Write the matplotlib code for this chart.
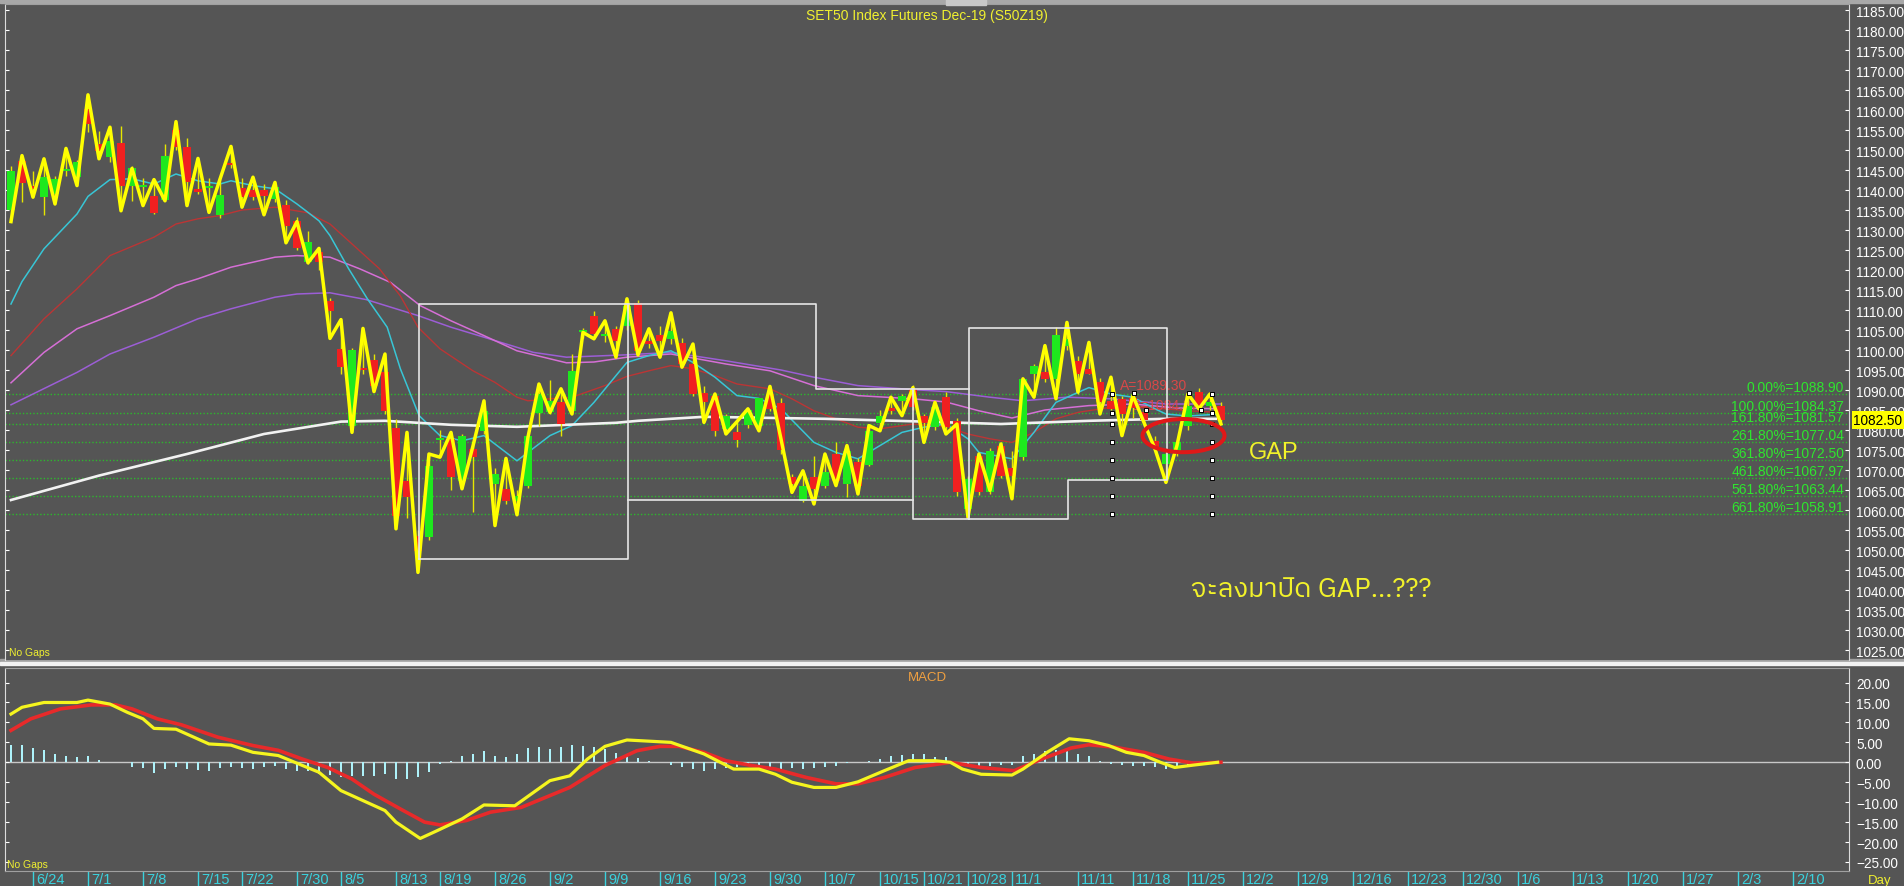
import numpy as np
import pandas as pd
import matplotlib
matplotlib.use('Agg')
import matplotlib.pyplot as plt
from matplotlib import font_manager as fm
from matplotlib.font_manager import FontProperties
from matplotlib.patches import Ellipse, Rectangle

# ---------------- data ----------------
open_ = [1135.1, 1147.3, 1141.0, 1138.2, 1139.0, 1144.8, 1143.2, 1160.2, 1151.5, 1148.2,
         1151.8, 1141.1, 1140.8, 1138.6, 1137.6, 1155.1, 1150.7, 1140.3, 1140.6, 1133.8,
         1146.8, 1140.4, 1140.0, 1140.0, 1137.8, 1136.3, 1132.3, 1121.9, 1124.4, 1112.3,
         1100.3, 1081.1, 1095.6, 1097.6, 1094.4, 1080.4, 1067.3, 1053.6, 1053.2, 1077.6,
         1077.8, 1067.3, 1075.3, 1079.8, 1066.5, 1065.2, 1062.3, 1066.1, 1084.3, 1084.4,
         1086.9, 1084.8, 1104.5, 1108.6, 1103.5, 1105.3, 1106.1, 1111.7, 1102.3, 1103.8,
         1102.8, 1101.7, 1096.5, 1089.3, 1088.6, 1080.3, 1079.4, 1081.3, 1081.1, 1089.0,
         1086.8, 1068.2, 1062.3, 1068.2, 1066.1, 1074.0, 1066.5, 1072.1, 1071.3, 1081.8,
         1085.5, 1087.3, 1090.3, 1083.4, 1080.7, 1088.2, 1082.3, 1060.3, 1073.6, 1064.4,
         1076.1, 1070.6, 1073.2, 1094.0, 1094.4, 1092.8, 1101.1, 1097.3, 1095.3, 1092.0,
         1087.3, 1087.8, 1088.0, 1084.5, 1077.3, 1071.5, 1074.4, 1081.1, 1089.4, 1086.0, 1086.1]
high = [1146.1, 1148.6, 1144.8, 1147.8, 1143.5, 1150.4, 1147.5, 1163.8, 1154.8, 1155.7,
        1156.1, 1146.0, 1143.0, 1142.6, 1151.5, 1157.1, 1152.9, 1147.9, 1143.0, 1142.7,
        1150.9, 1143.0, 1143.2, 1141.5, 1141.9, 1137.5, 1133.2, 1129.8, 1125.4, 1113.0,
        1107.6, 1100.5, 1105.4, 1099.0, 1099.0, 1082.8, 1079.4, 1055.0, 1074.0, 1080.0,
        1079.4, 1079.0, 1077.0, 1087.3, 1070.5, 1072.9, 1065.0, 1078.4, 1091.5, 1092.5,
        1090.3, 1099.0, 1105.5, 1109.8, 1107.3, 1106.0, 1112.8, 1112.5, 1105.3, 1106.0,
        1109.3, 1103.0, 1101.5, 1091.0, 1089.0, 1084.0, 1082.1, 1085.3, 1088.0, 1090.9,
        1088.0, 1069.0, 1069.8, 1073.6, 1074.0, 1077.0, 1076.1, 1073.0, 1081.1, 1085.0,
        1088.2, 1089.0, 1091.2, 1084.0, 1086.9, 1089.4, 1083.0, 1068.5, 1074.0, 1075.5,
        1077.0, 1074.8, 1092.8, 1096.5, 1101.1, 1105.7, 1106.9, 1098.5, 1101.9, 1093.0,
        1093.2, 1088.5, 1088.6, 1085.0, 1078.5, 1074.5, 1077.0, 1089.0, 1090.5, 1089.5, 1087.0]
low = [1132.1, 1136.9, 1138.2, 1133.8, 1136.5, 1143.5, 1141.1, 1154.4, 1147.8, 1147.0,
       1134.8, 1137.3, 1136.1, 1134.0, 1137.3, 1150.0, 1136.1, 1139.0, 1134.4, 1133.0,
       1145.5, 1135.7, 1137.5, 1133.8, 1137.0, 1126.8, 1125.0, 1121.5, 1120.0, 1102.9,
       1094.0, 1079.4, 1094.0, 1089.6, 1084.0, 1055.3, 1058.0, 1044.4, 1052.5, 1073.2,
       1065.0, 1065.3, 1059.4, 1079.0, 1056.1, 1061.5, 1058.8, 1065.5, 1081.0, 1084.0,
       1078.6, 1084.0, 1103.0, 1102.8, 1102.0, 1098.2, 1105.0, 1098.6, 1100.5, 1098.2,
       1101.5, 1095.7, 1088.5, 1081.9, 1078.6, 1079.0, 1075.7, 1080.5, 1079.8, 1084.8,
       1074.0, 1064.4, 1062.0, 1061.5, 1065.5, 1066.1, 1063.2, 1064.0, 1071.0, 1079.8,
       1084.0, 1083.6, 1085.0, 1076.9, 1080.0, 1079.0, 1063.5, 1058.2, 1063.8, 1064.0,
       1068.0, 1062.8, 1072.5, 1088.2, 1092.0, 1087.8, 1100.0, 1089.0, 1094.0, 1084.0,
       1085.0, 1078.6, 1083.0, 1081.0, 1075.0, 1066.9, 1073.5, 1080.0, 1085.0, 1085.0, 1081.5]
close = [1144.7, 1141.7, 1140.2, 1143.2, 1142.8, 1145.3, 1147.1, 1156.5, 1149.8, 1152.3,
         1141.1, 1145.5, 1141.2, 1134.3, 1148.6, 1150.7, 1142.1, 1139.6, 1141.0, 1138.8,
         1146.2, 1138.2, 1138.2, 1138.6, 1140.7, 1131.1, 1125.4, 1126.9, 1121.9, 1109.8,
         1095.7, 1100.1, 1095.0, 1091.1, 1084.8, 1058.6, 1063.2, 1049.8, 1071.1, 1077.9,
         1068.2, 1078.6, 1073.2, 1084.8, 1069.0, 1062.3, 1063.6, 1078.4, 1089.0, 1087.3,
         1081.5, 1094.8, 1105.0, 1104.0, 1104.0, 1102.3, 1111.1, 1099.8, 1101.5, 1102.3,
         1104.8, 1096.5, 1089.0, 1086.9, 1079.7, 1083.6, 1077.6, 1085.1, 1088.0, 1085.3,
         1075.1, 1066.5, 1066.1, 1065.3, 1069.4, 1067.3, 1074.8, 1066.1, 1079.8, 1083.4,
         1084.8, 1088.4, 1085.7, 1081.8, 1085.7, 1080.7, 1064.4, 1067.8, 1064.6, 1074.8,
         1068.6, 1068.6, 1092.8, 1096.0, 1092.8, 1103.8, 1102.8, 1094.0, 1094.0, 1087.0,
         1085.3, 1084.0, 1085.5, 1082.5, 1075.4, 1074.0, 1076.9, 1086.1, 1086.1, 1087.0, 1082.5]
# yellow swing line, one vertex per bar
swing = [1132.1, 1148.6, 1138.2, 1147.8, 1136.5, 1150.4, 1141.1, 1163.8, 1147.8, 1155.7,
         1134.8, 1145.4, 1136.1, 1142.6, 1137.3, 1157.1, 1136.1, 1147.9, 1134.4, 1142.7,
         1150.9, 1135.7, 1143.2, 1133.8, 1141.9, 1126.8, 1132.1, 1121.8, 1125.4, 1102.9,
         1107.6, 1079.4, 1105.4, 1089.6, 1099.0, 1055.3, 1079.4, 1044.4, 1074.0, 1073.2,
         1079.4, 1065.3, 1076.0, 1087.3, 1056.1, 1072.9, 1058.8, 1078.2, 1091.5, 1084.4,
         1090.3, 1084.0, 1104.4, 1102.8, 1107.3, 1098.2, 1112.8, 1098.8, 1105.3, 1098.2,
         1109.3, 1095.7, 1101.5, 1081.9, 1089.0, 1079.0, 1082.1, 1085.3, 1079.8, 1090.9,
         1077.8, 1064.4, 1069.8, 1061.5, 1074.0, 1066.1, 1076.1, 1064.0, 1081.1, 1079.8,
         1088.2, 1083.6, 1090.6, 1076.9, 1086.9, 1079.0, 1081.5, 1058.2, 1074.0, 1064.9,
         1076.5, 1062.8, 1092.8, 1088.2, 1101.1, 1087.8, 1106.9, 1089.5, 1101.9, 1084.0,
         1093.2, 1078.6, 1088.6, 1081.9, 1075.3, 1066.9, 1076.1, 1089.0, 1085.3, 1089.0, 1081.5]

# moving averages, sampled (bar index, value)
ma_cyan_x = [0, 1, 3, 6, 7, 9, 11, 13, 15, 17, 19, 20, 22, 24, 26, 28, 29, 30.7, 32.4, 34.2, 35.4, 37.1,
             39, 41, 43, 46, 49, 51, 53, 55, 56, 58, 60, 62, 64, 66, 68, 70, 73, 75, 77, 79, 81, 83,
             85, 87, 88, 91, 93, 95, 97, 98, 100, 102, 104, 105, 107, 110]
ma_cyan_y = [1111.5, 1117.1, 1125.3, 1134.0, 1138.4, 1142.6, 1142.8, 1141.5, 1144.0, 1142.3, 1141.5,
             1142.3, 1141.1, 1140.3, 1136.5, 1132.3, 1128.6, 1120.3, 1112.8, 1105.7, 1095.3, 1083.6,
             1078.6, 1077.3, 1078.6, 1072.3, 1078.6, 1081.1, 1086.9, 1093.6, 1096.9, 1098.6, 1099.8,
             1096.9, 1093.2, 1088.6, 1087.9, 1085.3, 1076.9, 1074.4, 1072.8, 1076.1, 1079.4, 1080.7,
             1081.5, 1077.8, 1074.4, 1072.8, 1079.4, 1086.9, 1089.4, 1090.6, 1089.0, 1088.2, 1085.3,
             1084.0, 1083.5, 1084.0]
ma_red_x = [0, 3, 6, 9, 13, 15, 17, 19, 21, 24, 27, 29, 33.5, 35.4, 37, 39, 42, 44, 46, 47, 49, 51,
            54, 56, 58, 60, 62, 64, 66, 69, 71, 73, 75, 77, 79, 82, 85, 87, 89, 91, 93, 95, 97, 100,
            102, 105, 107, 110]
ma_red_y = [1098.6, 1107.8, 1115.3, 1123.6, 1128.2, 1131.5, 1132.8, 1133.6, 1135.0, 1135.7, 1134.3,
            1131.5, 1120.3, 1113.5, 1105.7, 1100.3, 1094.8, 1091.9, 1088.2, 1087.3, 1087.8, 1088.2,
            1091.1, 1093.4, 1094.8, 1096.1, 1095.3, 1093.6, 1091.5, 1090.3, 1087.8, 1084.8, 1082.8,
            1080.7, 1080.3, 1081.5, 1080.9, 1079.0, 1077.8, 1076.9, 1079.4, 1082.8, 1084.4, 1085.7,
            1085.7, 1085.3, 1084.8, 1084.4]
ma_pink_x = [0, 3, 6, 9, 13, 15, 17, 20, 24, 26, 29, 31.7, 34.5, 37.2, 40, 43, 46, 50.5, 53, 56,
             60, 65, 69, 73, 77, 82, 85, 88, 91, 94, 98, 102, 106, 110]
ma_pink_y = [1091.8, 1099.4, 1105.3, 1108.6, 1113.2, 1116.1, 1117.8, 1120.7, 1123.2, 1123.6, 1123.2,
             1120.3, 1116.9, 1111.1, 1107.3, 1103.6, 1099.8, 1096.8, 1097.0, 1098.2, 1099.0, 1096.5,
             1094.8, 1091.1, 1088.6, 1087.8, 1087.0, 1084.8, 1083.0, 1085.0, 1086.1, 1086.5, 1085.5,
             1085.3]
ma_purple_x = [0, 6, 9, 13, 17, 20, 24, 26, 29, 32.3, 37, 40, 43, 47.5, 50.5, 56, 60, 65, 70, 73,
               77, 82, 85, 89, 92, 96, 100, 105, 110]
ma_purple_y = [1086.3, 1094.4, 1099.0, 1103.2, 1107.8, 1110.3, 1113.2, 1114.0, 1114.3, 1112.6,
               1108.6, 1105.7, 1103.2, 1099.4, 1098.2, 1098.8, 1099.4, 1097.3, 1095.0, 1093.2,
               1091.1, 1090.1, 1089.6, 1088.2, 1087.3, 1088.2, 1087.8, 1086.5, 1086.5]
ma_white_x = [0, 8, 16, 23, 30, 34, 40, 46, 55, 57, 63, 74, 83, 90, 98, 105, 110]
ma_white_y = [1062.5, 1068.6, 1074.0, 1079.0, 1082.1, 1082.3, 1081.3, 1080.8, 1081.8, 1082.3,
              1083.3, 1082.8, 1082.1, 1081.5, 1082.3, 1082.8, 1082.8]

fib_pct = ['0.00%', '100.00%', '161.80%', '261.80%', '361.80%', '461.80%', '561.80%', '661.80%']
fib_levels = [1088.90, 1084.37, 1081.57, 1077.04, 1072.50, 1067.97, 1063.44, 1058.91]
last_price = 1082.50

# MACD panel
macd_x = [0, 1, 3, 6, 7, 9, 10.6, 12, 13, 15, 18, 20, 22, 24.3, 26.5, 28, 30, 32, 34, 35, 37.2, 38.7,
          41, 43, 45.8, 49, 50.8, 52.4, 54, 56, 60, 63, 65.7, 68, 69.5, 71, 73, 75, 77, 79.4, 81.6,
          84, 85.4, 86.5, 88.2, 91, 92, 94.2, 96.2, 98, 99.8, 101.4, 103, 104.5, 105.8, 107.5, 109.7]
macd_y = [12.1, 13.8, 15.0, 15.0, 15.6, 14.6, 12.5, 10.9, 8.5, 8.3, 4.6, 4.3, 2.5, 1.7, -0.8, -2.5,
          -7.1, -9.6, -12.1, -15.0, -19.1, -17.2, -14.2, -10.7, -10.9, -4.6, -3.4, 0.8, 4.0, 5.6, 5.0,
          2.1, -1.7, -1.7, -3.0, -5.0, -6.3, -6.3, -4.9, -2.1, 0.4, 0.4, 0.0, -1.7, -3.0, -3.2, -1.7,
          2.5, 5.9, 5.4, 4.2, 2.5, 1.7, 0.0, -1.3, -0.7, 0.0]
signal_x = [0, 1.8, 4.5, 7.3, 9.5, 11, 13.3, 15.5, 18.8, 22, 24.3, 26.5, 28.8, 31, 33, 35.4, 37.6, 39,
            41.4, 43.6, 46.4, 48.6, 50.8, 54, 56.9, 59, 60.7, 63, 65, 67.3, 69.5, 72.3, 75, 77, 79.4,
            82.2, 85.4, 88.2, 91.2, 93.7, 96.4, 98, 100.3, 103, 105.3, 107.5, 110]
signal_y = [8.0, 10.9, 13.4, 14.4, 14.4, 13.4, 10.9, 9.4, 6.3, 4.2, 3.0, 0.8, -1.3, -4.2, -8.0, -11.7,
            -15.0, -15.7, -14.6, -12.5, -11.3, -8.8, -6.3, -0.8, 2.9, 4.0, 4.0, 2.5, 0.4, -0.8, -1.7,
            -3.8, -5.4, -5.4, -3.8, -1.3, 0.0, -1.3, -2.1, 0.8, 3.6, 4.4, 3.8, 2.5, 0.8, -0.2, 0.0]
hist = [4.3, 4.3, 3.7, 3.1, 2.2, 1.7, 1.25, 1.5, 0.7, 0.2,
        0.0, -1.25, -1.5, -2.6, -1.7, -1.25, -1.7, -1.9, -2.1, -1.5,
        -1.25, -1.4, -1.7, -1.25, -0.84, -1.7, -2.1, -2.3, -2.9, -3.2,
        -3.8, -3.4, -3.4, -3.4, -2.9, -4.2, -4.2, -3.8, -2.5, -0.42,
        0.42, 1.7, 2.1, 2.9, 1.5, 1.25, 2.2, 3.5, 3.8, 3.3,
        3.8, 4.3, 4.2, 3.8, 3.4, 2.3, 1.5, 1.0, 0.42, 0.0,
        -0.7, -1.25, -1.7, -2.1, -1.7, -1.5, -1.25, -1.0, -1.25, -1.7,
        -1.7, -1.5, -1.7, -1.5, -1.25, -0.84, -0.17, 0.0, 0.25, 0.84,
        1.5, 1.8, 2.1, 2.1, 1.25, 1.25, -0.84, -1.25, -1.25, -0.84,
        -0.7, -0.7, 1.7, 2.1, 2.9, 3.1, 3.4, 2.1, 1.7, 0.42,
        -0.42, -0.7, -0.84, -0.84, -1.25, -1.7, -1.5, -0.84, -0.42, -0.17, 0.17]

holidays = ['2019-07-16', '2019-07-29', '2019-08-12', '2019-10-14', '2019-10-23']
tick_dates = ['2019-06-24', '2019-07-01', '2019-07-08', '2019-07-15', '2019-07-22', '2019-07-30',
              '2019-08-05', '2019-08-13', '2019-08-19', '2019-08-26', '2019-09-02', '2019-09-09',
              '2019-09-16', '2019-09-23', '2019-09-30', '2019-10-07', '2019-10-15', '2019-10-21',
              '2019-10-28', '2019-11-01', '2019-11-11', '2019-11-18', '2019-11-25', '2019-12-02',
              '2019-12-09', '2019-12-16', '2019-12-23', '2019-12-30', '2020-01-06', '2020-01-13',
              '2020-01-20', '2020-01-27', '2020-02-03', '2020-02-10']

# ---------------- fonts ----------------
plt.rcParams['font.family'] = ['Liberation Sans', 'DejaVu Sans']


def find_thai_font():
    # pick a regular-weight face that covers Thai and Latin
    try:
        from fontTools.ttLib import TTFont
    except ImportError:
        return None
    bad = ('bold', 'black', 'heavy', 'light', 'thin', 'italic', 'oblique', 'looped',
           'serif', 'semi', 'medium', 'extra', 'condensed', 'mono')
    best, best_score = None, None
    for path in sorted(fm.findSystemFonts()):
        try:
            cmap = TTFont(path, fontNumber=0, lazy=True).getBestCmap()
        except Exception:
            continue
        if not cmap or 0x0E08 not in cmap or 0x0E1B not in cmap or 0x47 not in cmap:
            continue
        name = path.lower().rsplit('/', 1)[-1]
        score = sum(b in name for b in bad) * 10 - ('regular' in name) - 2 * ('sans' in name)
        if best_score is None or score < best_score:
            best, best_score = path, score
    return best


thai_path = find_thai_font()
if thai_path:
    thai_prop = FontProperties(fname=thai_path, size=19.5)
else:
    thai_prop = FontProperties(family=['Noto Sans', 'DejaVu Sans'], size=19.5)

# ---------------- layout ----------------
BG = '#555555'
W, H = 1904, 887
fig = plt.figure(figsize=(W / 100, H / 100), dpi=100, facecolor=BG)


def box(l, t, r, b):
    return [l / W, 1 - b / H, (r - l) / W, (b - t) / H]


ax = fig.add_axes(box(5, 5, 1849, 661), facecolor=BG)
ax2 = fig.add_axes(box(5, 669, 1849, 872), facecolor=BG, sharex=ax)

# frame bands
fig.add_artist(Rectangle((0, 1 - 4 / H), 1, 4 / H, transform=fig.transFigure, color='#a8a8a8', zorder=0))
fig.add_artist(Rectangle((946 / W, 1 - 6 / H), 40 / W, 6 / H, transform=fig.transFigure, color='#c8c8c8', zorder=1))
fig.add_artist(Rectangle((0, 1 - 663 / H), 1, 3 / H, transform=fig.transFigure, color='#a0a0a0', zorder=0))
fig.add_artist(Rectangle((0, 1 - 666 / H), 1, 3 / H, transform=fig.transFigure, color='#f2f2f2', zorder=0))

x = np.arange(len(open_))
o, h, l, c = map(np.array, (open_, high, low, close))
up = c >= o

# ---------------- main panel ----------------
for lvl, pct in zip(fib_levels, fib_pct):
    ax.axhline(lvl, color='#2db82d', lw=1, ls=(0, (1, 1.5)), zorder=1)
    ax.annotate(f'{pct}={lvl:.2f}', xy=(1, lvl), xycoords=('axes fraction', 'data'),
                xytext=(-5, 0), textcoords='offset pixels', ha='right', va='bottom',
                color='#2ee62e', fontsize=10)

ax.plot(ma_purple_x, ma_purple_y, color='#9c5ed6', lw=1.1, zorder=2)
ax.plot(ma_pink_x, ma_pink_y, color='#d66fd6', lw=1.1, zorder=2)
ax.plot(ma_red_x, ma_red_y, color='#bb3535', lw=1.0, zorder=2)
ax.plot(ma_cyan_x, ma_cyan_y, color='#38c6d6', lw=1.1, zorder=2)
ax.plot(ma_white_x, ma_white_y, color='#f2f2f2', lw=1.9, zorder=2)

ax.text(100.8, 1089.5, 'A=1089.30', color='#d84848', fontsize=10, va='bottom', zorder=2)
ax.text(101.9, 1084.6, 'B=1084.37', color='#d84848', fontsize=10, va='bottom', zorder=2)

ax.vlines(x, l, h, color='#e6e600', lw=1, zorder=3)
ax.bar(x, np.maximum(np.abs(c - o), 0.3), bottom=np.minimum(o, c), width=0.75,
       color=np.where(up, '#1ee81e', '#f02020'), zorder=4)
ax.plot(x, swing, color='#ffff00', lw=2.5, zorder=5)

box_lines = [
    [(37.1, 1047.8), (37.1, 1111.5), (56.1, 1111.5), (56.1, 1047.8), (37.1, 1047.8)],
    [(56.1, 1111.5), (73.2, 1111.5), (73.2, 1090.3), (87.1, 1090.3)],
    [(56.1, 1062.5), (82.0, 1062.5)],
    [(82.0, 1090.3), (82.0, 1057.8), (96.1, 1057.8), (96.1, 1067.5), (105.1, 1067.5),
     (105.1, 1105.5), (87.1, 1105.5), (87.1, 1057.8)],
]
for seg in box_lines:
    sx, sy = zip(*seg)
    ax.plot(sx, sy, color='#e6e6e6', lw=1.2, zorder=6)

mk_x = [100.1] * len(fib_levels) + [109.2] * len(fib_levels) + [102.1, 107.1, 103.2, 108.2]
mk_y = fib_levels + fib_levels + [1089.3, 1089.3, 1084.9, 1084.9]
ax.scatter(mk_x, mk_y, marker='s', s=10, facecolor='white', edgecolor='black', lw=0.7, zorder=7)

ax.add_patch(Ellipse((106.6, 1078.6), 7.45, 8.3, fill=False, edgecolor='#e01818', lw=2.9, zorder=8))
ax.text(112.5, 1074.5, 'GAP', color='#f2f22a', fontsize=17, va='center', ha='left')
ax.text(107.3, 1040.3, 'จะลงมาปิด GAP...???', color='#f2f22a', fontproperties=thai_prop,
        va='center', ha='left')

ax.text(0.5, 0.983, 'SET50 Index Futures Dec-19 (S50Z19)', transform=ax.transAxes,
        ha='center', va='center', color='#f0f030', fontsize=10)
ax.text(0.002, 0.004, 'No Gaps', transform=ax.transAxes, color='#f0f030', fontsize=7.5, va='bottom')

ax.annotate(f'{last_price:.2f}', xy=(1, last_price), xycoords=('axes fraction', 'data'),
            xytext=(3, 0), textcoords='offset points', ha='left', va='center', fontsize=9.8,
            color='black', bbox=dict(boxstyle='square,pad=0.12', fc='#ffff00', ec='none'),
            annotation_clip=False, zorder=10)

ax.set_xlim(-0.545, 167.1)
ax.set_ylim(1022.5, 1186.5)
ax.yaxis.tick_right()
ax.set_yticks(np.arange(1025, 1186, 5))
ax.yaxis.set_major_formatter('{x:.2f}')
ax.tick_params(axis='y', colors='white', direction='in', length=3, pad=5, labelsize=9.8,
               left=True, right=True, labelleft=False, labelright=True)
ax.tick_params(axis='x', bottom=False, labelbottom=False)

# ---------------- MACD panel ----------------
ax2.axhline(0, color='#c8c8c8', lw=1, zorder=1)
ax2.bar(x, hist, width=0.22, color='#aef2fa', zorder=2)
ax2.plot(signal_x, signal_y, color='#e82a2a', lw=2.6, zorder=3)
ax2.plot(macd_x, macd_y, color='#f5f51e', lw=2.3, zorder=4)
ax2.text(0.5, 0.956, 'MACD', transform=ax2.transAxes, color='#f0a040', fontsize=9.5,
         ha='center', va='center')
ax2.text(0.001, 0.01, 'No Gaps', transform=ax2.transAxes, color='#f0f030', fontsize=7.5, va='bottom')

ax2.set_ylim(-27.26, 23.65)
ax2.yaxis.tick_right()
ax2.set_yticks(np.arange(-25, 21, 5))
ax2.yaxis.set_major_formatter('{x:.2f}')
ax2.tick_params(axis='y', colors='white', direction='in', length=3, pad=5, labelsize=9.8,
                left=True, right=True, labelleft=False, labelright=True)

dates = pd.bdate_range('2019-06-20', '2020-02-14')
dates = dates[~dates.isin(pd.to_datetime(holidays))]
day_index = {d: i for i, d in enumerate(dates)}
tick_ts = pd.to_datetime(tick_dates)
tick_pos = [day_index[d] for d in tick_ts]
ax2.set_xticks(tick_pos)
ax2.tick_params(axis='x', colors='#3ad2de', length=11, width=1, direction='out', labelbottom=False)
for p, d in zip(tick_pos, tick_ts):
    ax2.annotate(f'{d.month}/{d.day}', xy=(p, 0), xycoords=('data', 'axes fraction'),
                 xytext=(3, -1), textcoords='offset pixels', ha='left', va='top',
                 color='#3ad2de', fontsize=10.5, annotation_clip=False)
fig.text(1868 / W, 1 - 881 / H, 'Day', color='#f0f030', fontsize=9.5, va='center')

for a in (ax, ax2):
    for side in ('left', 'right'):
        a.spines[side].set_color('#dcdcdc')
        a.spines[side].set_linestyle((0, (1, 1)))
    a.spines['top'].set_color('#a0a0a0')
    a.spines['bottom'].set_color('#a0a0a0')
ax.spines['bottom'].set_visible(False)

fig.savefig('out.png', dpi=100, facecolor=BG)
